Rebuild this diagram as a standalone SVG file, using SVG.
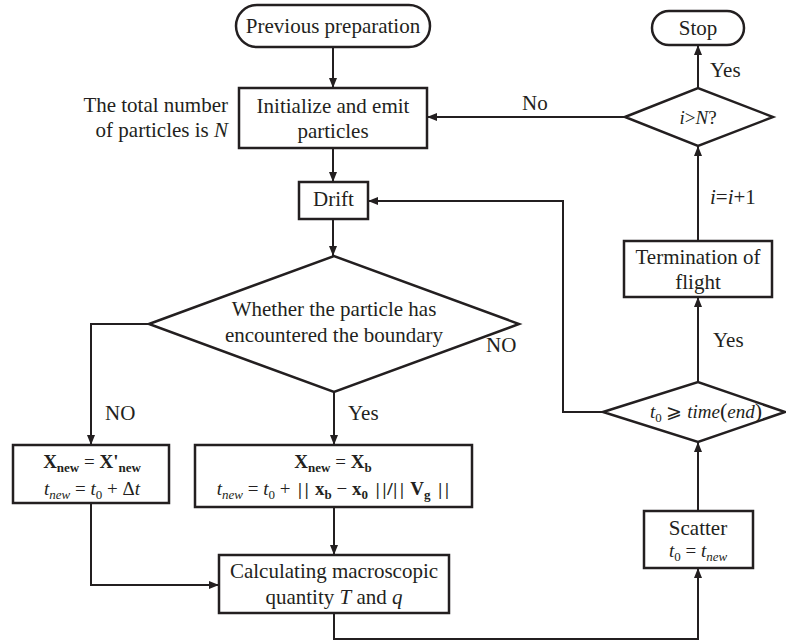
<svg xmlns="http://www.w3.org/2000/svg" width="786" height="642" viewBox="0 0 786 642" font-family="'Liberation Serif', 'Times New Roman', serif">
<defs>
<marker id="ah" markerUnits="userSpaceOnUse" markerWidth="10" markerHeight="8" refX="10" refY="4" orient="auto">
<path d="M0,0 L10,4 L0,8 z" fill="#231f20"/>
</marker>
<style>
.n{fill:#fff;stroke:#231f20;stroke-width:2.5}
.c{fill:none;stroke:#231f20;stroke-width:2;marker-end:url(#ah)}
text{font-size:21px;fill:#231f20}
.m{text-anchor:middle}
.f{font-size:19px}
.b{font-weight:bold}
.i{font-style:italic}
.v{font-family:'Noto Sans',sans-serif;font-size:17px;letter-spacing:-2.5px}
</style>
</defs>
<rect width="786" height="642" fill="#fff"/>
<g id="connectors">
<path class="c" d="M333,47 V88"/>
<path class="c" d="M333,148 V182"/>
<path class="c" d="M333,219 V256"/>
<path class="c" d="M149,324 H91 V445"/>
<path class="c" d="M334,392 V445"/>
<path class="c" d="M91,503 V585 H219"/>
<path class="c" d="M334,507 V555"/>
<path class="c" d="M334,613 V639 H698 V568"/>
<path class="c" d="M698,511 V442"/>
<path class="c" d="M698,382 V297"/>
<path class="c" d="M603,412 H563 V201 H368"/>
<path class="c" d="M698,241 V146"/>
<path class="c" d="M625,117 H427"/>
<path class="c" d="M698,88 V45"/>
<text x="105" y="420">NO</text>
<text x="348" y="420">Yes</text>
<text x="486" y="352">NO</text>
<text x="713" y="347">Yes</text>
<text x="522" y="110">No</text>
<text x="710" y="77">Yes</text>
<text x="710" y="204"><tspan class="i">i</tspan>=<tspan class="i">i</tspan>+1</text>
</g>
<g id="note">
<text x="228" y="112" text-anchor="end">The total number</text>
<text x="228" y="137" text-anchor="end">of particles is <tspan class="i">N</tspan></text>
</g>
<g id="prev">
<rect class="n" x="236" y="5" width="194" height="42" rx="21"/>
<text class="m" x="333" y="33">Previous preparation</text>
</g>
<g id="init">
<rect class="n" x="239" y="88" width="188" height="60"/>
<text class="m" x="333" y="113">Initialize and emit</text>
<text class="m" x="333" y="138">particles</text>
</g>
<g id="drift">
<rect class="n" x="299" y="182" width="69" height="37"/>
<text class="m" x="333.5" y="206">Drift</text>
</g>
<g id="boundary">
<polygon class="n" points="149,324 334,256 519,324 334,392"/>
<text class="m" x="334" y="316">Whether the particle has</text>
<text class="m" x="334" y="342">encountered the boundary</text>
</g>
<g id="noBoundary">
<rect class="n" x="13" y="445" width="156" height="58"/>
<text class="m f" x="92" y="468"><tspan class="b">X</tspan><tspan class="b" font-size="13" dy="4">new</tspan><tspan dy="-4"> = </tspan><tspan class="b">X'</tspan><tspan class="b" font-size="13" dy="4">new</tspan></text>
<text class="m f" x="92" y="495"><tspan class="i">t</tspan><tspan class="i" font-size="13" dy="4">new</tspan><tspan dy="-4"> = </tspan><tspan class="i">t</tspan><tspan font-size="13" dy="4">0</tspan><tspan dy="-4"> + Δ</tspan><tspan class="i">t</tspan></text>
</g>
<g id="yesBoundary">
<rect class="n" x="195" y="445" width="277" height="62"/>
<text class="m f" x="333" y="468"><tspan class="b">X</tspan><tspan class="b" font-size="13" dy="4">new</tspan><tspan dy="-4"> = </tspan><tspan class="b">X</tspan><tspan class="b" font-size="13" dy="4">b</tspan></text>
<text class="m f" x="333" y="495"><tspan class="i">t</tspan><tspan class="i" font-size="13" dy="4">new</tspan><tspan dy="-4"> = </tspan><tspan class="i">t</tspan><tspan font-size="13" dy="4">0</tspan><tspan dy="-4"> + </tspan><tspan class="v">||</tspan><tspan class="b" dx="6">x</tspan><tspan class="b" font-size="13" dy="4">b</tspan><tspan dy="-4"> − </tspan><tspan class="b">x</tspan><tspan class="b" font-size="13" dy="4">0</tspan><tspan class="v" dy="-4" dx="5">||/||</tspan><tspan class="b" dx="6">V</tspan><tspan class="b" font-size="13" dy="4">g</tspan><tspan class="v" dy="-4" dx="5">||</tspan></text>
</g>
<g id="calc">
<rect class="n" x="219" y="555" width="230" height="58"/>
<text class="m" x="334" y="578">Calculating macroscopic</text>
<text class="m" x="334" y="604">quantity <tspan class="i">T</tspan> and <tspan class="i">q</tspan></text>
</g>
<g id="scatter">
<rect class="n" x="644" y="511" width="109" height="57"/>
<text class="m" x="698" y="535">Scatter</text>
<text class="m f" x="698" y="557"><tspan class="i">t</tspan><tspan font-size="13" dy="4">0</tspan><tspan dy="-4"> = </tspan><tspan class="i">t</tspan><tspan class="i" font-size="13" dy="4">new</tspan></text>
</g>
<g id="timeCheck">
<polygon class="n" points="603,412 698,382 785,412 698,442"/>
<text class="m f" x="706" y="418"><tspan class="i">t</tspan><tspan font-size="13" dy="4">0</tspan><tspan dy="-4"> ⩾ </tspan><tspan class="i">time</tspan><tspan font-size="22">(</tspan><tspan class="i">end</tspan><tspan font-size="22">)</tspan></text>
</g>
<g id="termination">
<rect class="n" x="624" y="241" width="148" height="56"/>
<text class="m" x="698" y="264">Termination of</text>
<text class="m" x="698" y="289">flight</text>
</g>
<g id="iCheck">
<polygon class="n" points="625,117 698,88 773,117 698,146"/>
<text class="m f" x="698" y="124"><tspan class="i">i</tspan>&gt;<tspan class="i">N</tspan>?</text>
</g>
<g id="stop">
<rect class="n" x="652" y="11" width="92" height="34" rx="17"/>
<text class="m" x="698" y="35">Stop</text>
</g>
</svg>
